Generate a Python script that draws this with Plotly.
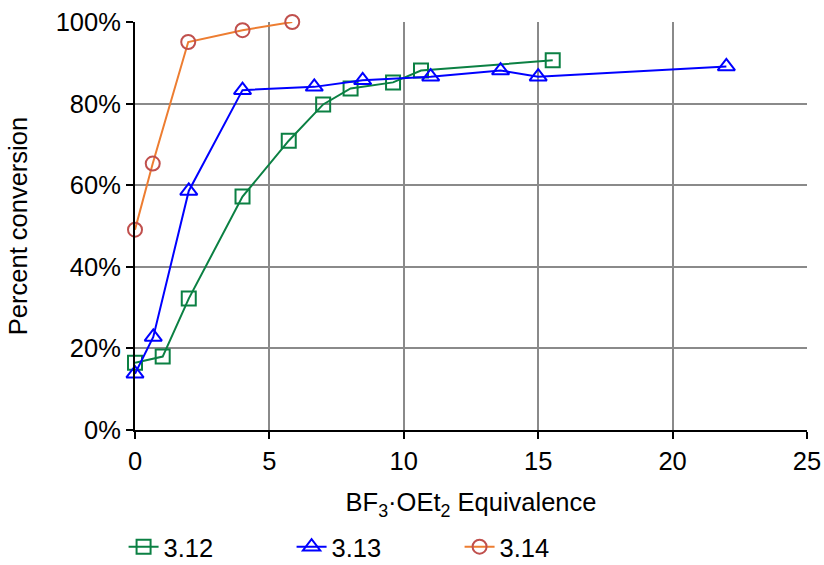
import plotly.graph_objects as go

x_312 = [0, 1.03, 2.0, 4.0, 5.72, 7.0, 8.02, 9.6, 10.64, 15.54]
y_312 = [16.5, 18.0, 32.2, 57.2, 70.9, 79.8, 83.7, 85.2, 88.1, 90.6]

x_313 = [0, 0.68, 2.0, 4.0, 6.67, 8.47, 11.0, 13.6, 15.0, 22.0]
y_313 = [13.8, 22.8, 58.6, 83.3, 84.1, 85.7, 86.6, 88.1, 86.6, 89.1]

x_314 = [0, 0.66, 1.98, 4.0, 5.85]
y_314 = [49.1, 65.3, 95.1, 98.0, 100.0]

names = ["3.12", "3.13", "3.14"]
x_ticks = [0, 5, 10, 15, 20, 25]
y_ticks = [0, 20, 40, 60, 80, 100]
y_ticklabels = ["0%", "20%", "40%", "60%", "80%", "100%"]

FONT = "Liberation Sans, Arial, sans-serif"
FS = 25.5

fig = go.Figure()
fig.add_trace(go.Scatter(
    x=x_312, y=y_312, name=names[0], mode="lines+markers",
    line=dict(color="#0B8043", width=2),
    marker=dict(symbol="square-open", size=14, color="#0B8043", line=dict(width=2)),
    cliponaxis=False))
fig.add_trace(go.Scatter(
    x=x_313, y=y_313, name=names[1], mode="lines+markers",
    line=dict(color="#0000FF", width=2),
    marker=dict(symbol="triangle-up-open", size=15, color="#0000FF", line=dict(width=2)),
    cliponaxis=False))
fig.add_trace(go.Scatter(
    x=x_314, y=y_314, name=names[2], mode="lines+markers",
    line=dict(color="#ED7D31", width=2),
    marker=dict(symbol="circle-open", size=14, color="#C0504D", line=dict(width=2)),
    cliponaxis=False))

fig.update_layout(
    width=824, height=565,
    margin=dict(l=135, r=17, t=22, b=135, autoexpand=False),
    paper_bgcolor="white", plot_bgcolor="white",
    font=dict(family=FONT, size=FS, color="black"),
    showlegend=True,
    legend=dict(orientation="h", x=-0.017, xanchor="left", y=-0.287, yanchor="middle",
                entrywidth=123, entrywidthmode="pixels",
                font=dict(family=FONT, size=FS, color="black"),
                bgcolor="rgba(0,0,0,0)"),
)
fig.update_xaxes(
    range=[0, 25], tickvals=x_ticks, ticktext=[str(v) for v in x_ticks],
    automargin=False, ticklabeloverflow="allow",
    showgrid=True, gridcolor="#8A8A8A", gridwidth=2,
    showline=True, linecolor="black", linewidth=2,
    ticks="outside", ticklen=7, tickwidth=2, tickcolor="black",
    zeroline=False,
    tickfont=dict(family=FONT, size=FS),
    title=dict(text="BF<sub>3</sub>·OEt<sub>2</sub> Equivalence",
               font=dict(family=FONT, size=FS), standoff=20),
)
fig.update_yaxes(
    range=[0, 100], tickvals=y_ticks, ticktext=y_ticklabels,
    automargin=False, ticklabeloverflow="allow",
    showgrid=True, gridcolor="#8A8A8A", gridwidth=2,
    showline=True, linecolor="black", linewidth=2,
    ticks="outside", ticklen=7, tickwidth=2, tickcolor="black",
    zeroline=False,
    tickfont=dict(family=FONT, size=FS),
    title=dict(text="Percent conversion", font=dict(family=FONT, size=FS), standoff=21),
)

# remove the browser's default 8px body margin so the figure fills the window exactly
fig.write_html("out.html", config={"displayModeBar": False},
               post_script="document.body.style.margin='0';document.body.style.overflow='hidden';")
